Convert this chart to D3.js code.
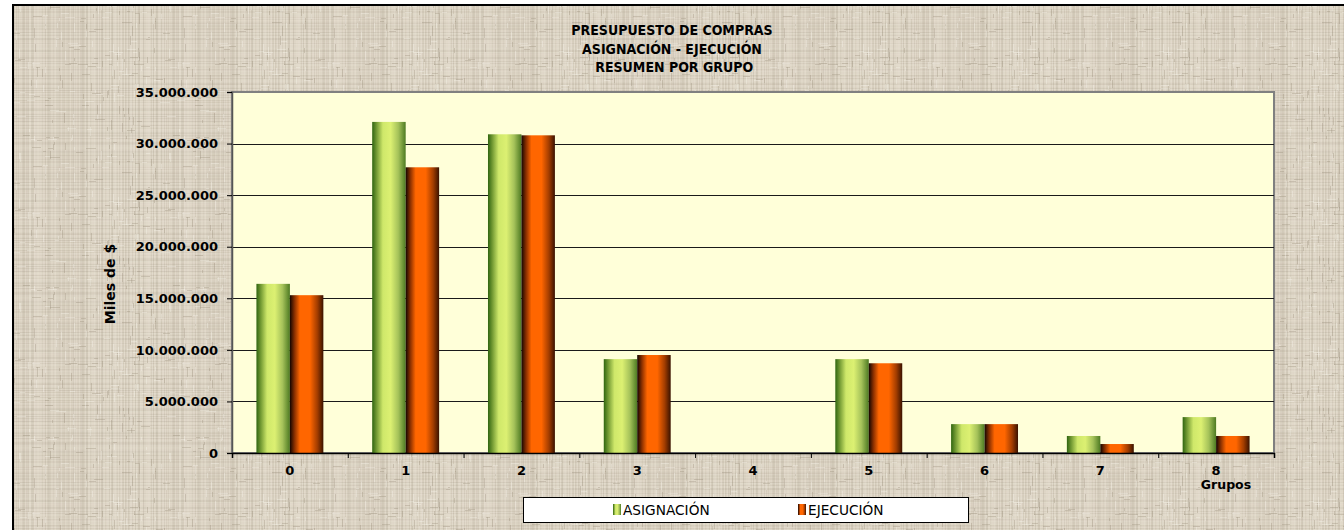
<!DOCTYPE html>
<meta charset="utf-8">
<style>
  body { margin: 0; background: #fff; }
  .tick text { font-family: "DejaVu Sans", Verdana, sans-serif; font-weight: bold; font-size: 13px; fill: #000; }
  .title { font-family: "DejaVu Sans Condensed", "DejaVu Sans", sans-serif; font-weight: bold; font-size: 14px; }
</style>
<body>
<script src="https://d3js.org/d3.v7.min.js"></script>
<script>
// data
var groups = ["0", "1", "2", "3", "4", "5", "6", "7", "8"];
var series = ["ASIGNACIÓN", "EJECUCIÓN"];
var asignacion = [16400000, 32100000, 30900000, 9100000, 0, 9100000, 2800000, 1650000, 3480000];
var ejecucion  = [15300000, 27700000, 30800000, 9500000, 0, 8700000, 2800000, 870000, 1650000];
var yTicks = [0, 5000000, 10000000, 15000000, 20000000, 25000000, 30000000, 35000000];
var titleLines = ["PRESUPUESTO DE COMPRAS", "ASIGNACIÓN - EJECUCIÓN", " RESUMEN POR GRUPO"];

var W = 1344, H = 530;
var plot = {left: 232, top: 92, right: 1274, bottom: 453};

var svg = d3.select("body").append("svg")
    .attr("width", W)
    .attr("height", H);

var defs = svg.append("defs");

// linen-like background texture
var P = 150;
var pat = defs.append("pattern")
    .attr("id", "linen")
    .attr("width", P).attr("height", P)
    .attr("patternUnits", "userSpaceOnUse");
pat.append("rect").attr("width", P).attr("height", P).attr("fill", "#dad1c1");
function hash(n) { var s = Math.sin(n * 12.9898) * 43758.5453; return s - Math.floor(s); }
for (var i = 0; i < P; i++) {
  var a = hash(i + 1), b = hash(i + 101);
  pat.append("rect").attr("x", i).attr("y", 0).attr("width", 1).attr("height", P)
     .attr("fill", a > 0.45 ? "#f3eee2" : "#a9a08d").attr("opacity", 0.05 + 0.2 * hash(i + 7));
  pat.append("rect").attr("x", 0).attr("y", i).attr("width", P).attr("height", 1)
     .attr("fill", b > 0.45 ? "#f3eee2" : "#a9a08d").attr("opacity", 0.04 + 0.16 * hash(i + 57));
}
// short flecks
for (var k = 0; k < 220; k++) {
  var fx = Math.floor(hash(k + 300) * P), fy = Math.floor(hash(k + 700) * P);
  var vert = hash(k + 900) > 0.5;
  pat.append("rect").attr("x", fx).attr("y", fy)
     .attr("width", vert ? 1 : 3 + Math.floor(hash(k + 1100) * 8))
     .attr("height", vert ? 3 + Math.floor(hash(k + 1300) * 8) : 1)
     .attr("fill", hash(k + 1500) > 0.5 ? "#f7f3ea" : "#998f7c")
     .attr("opacity", 0.35);
}

// bar gradients
function grad(id, stops) {
  var g = defs.append("linearGradient").attr("id", id)
      .attr("x1", "0%").attr("x2", "100%").attr("y1", "0%").attr("y2", "0%");
  stops.forEach(function(s) { g.append("stop").attr("offset", s[0]).attr("stop-color", s[1]); });
}
grad("gGreen", [["0%", "#2f6510"], ["12%", "#6d9530"], ["32%", "#cfe86a"], ["55%", "#dcf072"], ["78%", "#a5c25a"], ["100%", "#4d7a22"]]);
grad("gOrange", [["0%", "#120400"], ["14%", "#8a3000"], ["30%", "#ff6600"], ["60%", "#ff6600"], ["82%", "#a33d00"], ["100%", "#3a1200"]]);
var fills = ["url(#gGreen)", "url(#gOrange)"];

// background + outer frame
svg.append("rect").attr("x", 13).attr("y", 5).attr("width", W + 20).attr("height", H + 20)
    .attr("fill", "url(#linen)").attr("stroke", "#000").attr("stroke-width", 2);

// title
svg.append("g").selectAll("text")
    .data(titleLines)
  .enter().append("text")
    .attr("class", "title")
    .attr("x", 672)
    .attr("y", function(d, i) { return 35 + i * 18.5; })
    .attr("text-anchor", "middle")
    .attr("xml:space", "preserve")
    .text(function(d) { return d; });

// scales
var x0 = d3.scaleBand().domain(groups).range([plot.left, plot.right]);
var x1 = d3.scaleBand().domain(series).range([0, x0.bandwidth()]).paddingOuter(0.73);
var y = d3.scaleLinear().domain([0, 35000000]).range([plot.bottom, plot.top]);

var loc = d3.formatLocale({decimal: ",", thousands: ".", grouping: [3], currency: ["$", ""]});
var fmt = loc.format(",.0f");

// plot area
svg.append("rect")
    .attr("x", plot.left).attr("y", plot.top)
    .attr("width", plot.right - plot.left).attr("height", plot.bottom - plot.top)
    .attr("fill", "#ffffd9").attr("stroke", "#808080").attr("stroke-width", 2);

// gridlines
svg.append("g").selectAll("line")
    .data(yTicks.slice(1, -1))
  .enter().append("line")
    .attr("x1", plot.left).attr("x2", plot.right)
    .attr("y1", function(d) { return Math.round(y(d)) + 0.5; })
    .attr("y2", function(d) { return Math.round(y(d)) + 0.5; })
    .attr("stroke", "#1a1a1a").attr("stroke-width", 1);

// bars
var rows = groups.map(function(g, i) { return {g: g, v: [asignacion[i], ejecucion[i]]}; });
svg.append("g").selectAll("g")
    .data(rows)
  .enter().append("g")
    .attr("transform", function(d) { return "translate(" + x0(d.g) + ",0)"; })
  .selectAll("rect")
    .data(function(d) { return d.v.map(function(v, j) { return {s: series[j], v: v, j: j}; }); })
  .enter().append("rect")
    .attr("x", function(d) { return x1(d.s); })
    .attr("width", x1.bandwidth())
    .attr("y", function(d) { return y(d.v); })
    .attr("height", function(d) { return plot.bottom - y(d.v); })
    .attr("fill", function(d) { return fills[d.j]; });

// y axis
var yAxis = svg.append("g")
    .attr("transform", "translate(" + plot.left + ",0)")
    .call(d3.axisLeft(y).tickValues(yTicks).tickFormat(fmt).tickSize(5).tickPadding(9));
yAxis.select(".domain").attr("stroke", "#555").attr("stroke-width", 1.5);
yAxis.selectAll(".tick line").attr("stroke", "#000");

// x axis: boundary ticks + centred labels
var xb = d3.scaleLinear().domain([0, groups.length]).range([plot.left, plot.right]);
var xTicks = svg.append("g")
    .attr("transform", "translate(0," + plot.bottom + ")")
    .call(d3.axisBottom(xb).ticks(groups.length).tickFormat("").tickSize(5));
xTicks.select(".domain").attr("stroke", "#000").attr("stroke-width", 1.5);

svg.append("g")
    .attr("transform", "translate(0," + plot.bottom + ")")
    .call(d3.axisBottom(x0).tickSize(0).tickPadding(13))
    .select(".domain").remove();

// axis titles
svg.append("text")
    .attr("transform", "translate(115,284) rotate(-90)")
    .attr("text-anchor", "middle")
    .attr("font-family", "DejaVu Sans, Verdana, sans-serif")
    .attr("font-weight", "bold").attr("font-size", 14)
    .text("Miles de $");

svg.append("text")
    .attr("x", 1226).attr("y", 489)
    .attr("text-anchor", "middle")
    .attr("font-family", "DejaVu Sans, Verdana, sans-serif")
    .attr("font-weight", "bold").attr("font-size", 12.5)
    .text("Grupos");

// legend
var lg = svg.append("g");
lg.append("rect")
    .attr("x", 523.5).attr("y", 497.5).attr("width", 445).attr("height", 25)
    .attr("fill", "#fff").attr("stroke", "#000").attr("stroke-width", 1);
var lx = [613, 798];
var items = lg.selectAll("g.item")
    .data(series)
  .enter().append("g")
    .attr("class", "item")
    .attr("transform", function(d, i) { return "translate(" + lx[i] + ",0)"; });
items.append("rect")
    .attr("y", 504).attr("width", 8).attr("height", 11)
    .attr("fill", function(d, i) { return fills[i]; });
items.append("text")
    .attr("x", 10).attr("y", 515)
    .attr("font-family", "DejaVu Sans, Tahoma, sans-serif")
    .attr("font-size", 13.7)
    .text(function(d) { return d; });
</script>
</body>
